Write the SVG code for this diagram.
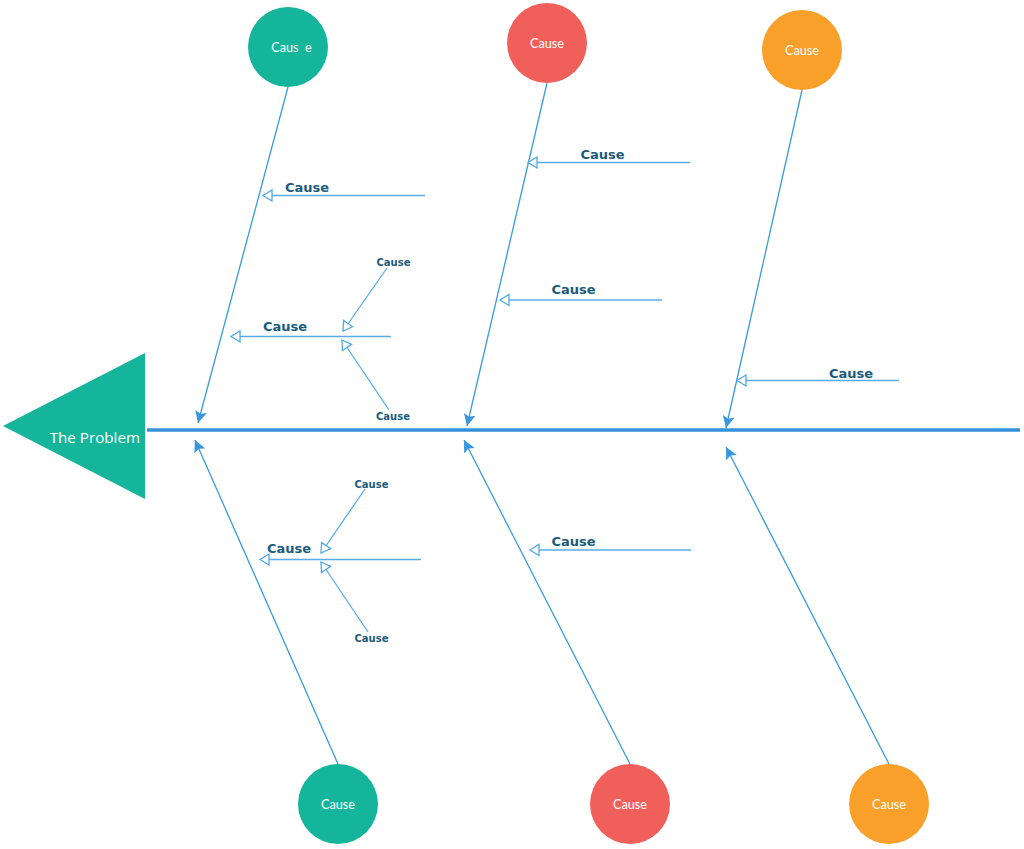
<svg xmlns="http://www.w3.org/2000/svg" width="1024" height="849" viewBox="0 0 1024 849">
<defs>
<marker id="solid" markerUnits="userSpaceOnUse" markerWidth="14" markerHeight="14" viewBox="0 0 14 12" refX="12" refY="6" orient="auto">
<path d="M0,0 L12,6 L0,12 L2.5,6 z" fill="#3a97df"/>
</marker>
<marker id="hollow" markerUnits="userSpaceOnUse" markerWidth="12" markerHeight="14" viewBox="0 0 12 14" refX="10" refY="7" orient="auto">
<path d="M1,1.5 L10,7 L1,12.5 z" fill="#ffffff" stroke="#52a9e6" stroke-width="1.3"/>
</marker>
<style>
.bone{stroke:#3a9ae0;stroke-width:1.3;fill:none;marker-end:url(#solid)}
.sub{stroke:#58ade8;stroke-width:1.3;fill:none;marker-end:url(#hollow)}
.lbl{font-family:"DejaVu Sans",sans-serif;font-weight:bold;font-size:13px;fill:#1a5b7d;text-anchor:middle}
.slbl{font-family:"DejaVu Sans",sans-serif;font-weight:bold;font-size:10px;fill:#1a5b7d;text-anchor:middle}
.ctext{font-family:Lato,"Open Sans",sans-serif;font-size:12.7px;fill:#ffffff;text-anchor:middle}
</style>
</defs>
<rect width="1024" height="849" fill="#ffffff"/>

<g id="problem">
<polygon points="3,426 145,353 145,499" fill="#14b59b"/>
<text x="140" y="443" font-family="'Open Sans','Noto Sans',sans-serif" font-size="15.2" fill="#ffffff" text-anchor="end">The Problem</text>
</g>

<g id="connectors">
<line x1="147" y1="430" x2="1020" y2="430" stroke="#3591d9" stroke-width="3.5"/>
<line class="bone" x1="288" y1="87" x2="198" y2="423"/>
<line class="bone" x1="547" y1="83" x2="467" y2="426"/>
<line class="bone" x1="802" y1="90" x2="726" y2="428"/>
<line class="bone" x1="338" y1="764" x2="195" y2="440"/>
<line class="bone" x1="630" y1="764" x2="464" y2="440"/>
<line class="bone" x1="889" y1="764" x2="726" y2="447"/>

<line class="sub" x1="425" y1="195.5" x2="263" y2="195.5"/>
<line class="sub" x1="391" y1="336.5" x2="231" y2="336.5"/>
<line class="sub" x1="387" y1="268" x2="343" y2="331"/>
<line class="sub" x1="389" y1="410" x2="342" y2="340"/>
<line class="sub" x1="421" y1="559.5" x2="260" y2="559.5"/>
<line class="sub" x1="365" y1="489" x2="321" y2="553"/>
<line class="sub" x1="368" y1="632" x2="321" y2="562"/>
<line class="sub" x1="690" y1="162.5" x2="528" y2="162.5"/>
<line class="sub" x1="662" y1="300" x2="500" y2="300"/>
<line class="sub" x1="899" y1="380.5" x2="737" y2="380.5"/>
<line class="sub" x1="691" y1="550" x2="530" y2="550"/>
</g>

<g id="sub-labels">
<text class="lbl" x="307" y="192">Cause</text>
<text class="lbl" x="285" y="331">Cause</text>
<text class="slbl" x="393.5" y="266">Cause</text>
<text class="slbl" x="393" y="420">Cause</text>
<text class="lbl" x="289" y="553">Cause</text>
<text class="slbl" x="371.5" y="488">Cause</text>
<text class="slbl" x="371.5" y="641.5">Cause</text>
<text class="lbl" x="602.5" y="159">Cause</text>
<text class="lbl" x="573.5" y="294">Cause</text>
<text class="lbl" x="851" y="378">Cause</text>
<text class="lbl" x="573.5" y="546">Cause</text>
</g>

<g id="cause-top-1">
<circle cx="288" cy="47" r="40" fill="#14b59b"/>
<text class="ctext" x="291.5" y="51.5" xml:space="preserve">Caus  e</text>
</g>
<g id="cause-top-2">
<circle cx="547" cy="43" r="40" fill="#f15f5a"/>
<text class="ctext" x="547" y="48">Cause</text>
</g>
<g id="cause-top-3">
<circle cx="802" cy="50" r="40" fill="#f8a02a"/>
<text class="ctext" x="802" y="55">Cause</text>
</g>
<g id="cause-bottom-1">
<circle cx="338" cy="804" r="40" fill="#14b59b"/>
<text class="ctext" x="338" y="809">Cause</text>
</g>
<g id="cause-bottom-2">
<circle cx="630" cy="804" r="40" fill="#f15f5a"/>
<text class="ctext" x="630" y="809">Cause</text>
</g>
<g id="cause-bottom-3">
<circle cx="889" cy="804" r="40" fill="#f8a02a"/>
<text class="ctext" x="889" y="809">Cause</text>
</g>
</svg>
